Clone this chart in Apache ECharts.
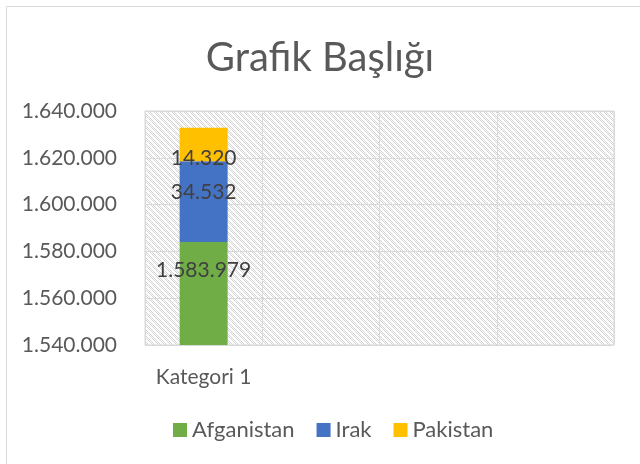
<!DOCTYPE html>
<html>
<head>
<meta charset="utf-8">
<script src="https://cdn.jsdelivr.net/npm/echarts@6/dist/echarts.min.js"></script>
<style>
  html, body { margin: 0; padding: 0; background: #fff; }
  #chart { width: 640px; height: 464px; }
</style>
</head>
<body>
<div id="chart"></div>
<script>
var categories = ['Kategori 1', '', '', ''];
var afganistan = [1583979, null, null, null];
var irak = [34532, null, null, null];
var pakistan = [14320, null, null, null];
var yTicks = [1540000, 1560000, 1580000, 1600000, 1620000, 1640000];

// dotted thousands, like the Turkish locale
function fmt(v) {
    return String(v).replace(/\B(?=(\d{3})+(?!\d))/g, '.');
}

// hatched plot background
var tile = document.createElement('canvas');
tile.width = 6;
tile.height = 6;
var ctx = tile.getContext('2d');
ctx.fillStyle = '#ffffff';
ctx.fillRect(0, 0, 6, 6);
ctx.fillStyle = '#d4d4d4';
for (var y = 0; y < 6; y++) {
    for (var x = 0; x < 6; x++) {
        var d = (x - y + 12) % 6;
        if (d < 3 && (x + y) % 2 === 0) {
            ctx.fillRect(x, y, 1, 1);
        }
    }
}

var labelStyle = {
    show: true,
    color: '#404040',
    fontSize: 21,
    fontFamily: 'Lato',
    formatter: function(p) { return fmt(p.value); }
};

var chart = echarts.init(document.getElementById('chart'));
chart.setOption({
    animation: false,
    textStyle: { fontFamily: 'Lato' },
    title: {
        text: 'Grafik Başlığı',
        left: 'center',
        top: 33,
        textStyle: { color: '#595959', fontSize: 40, fontWeight: 'normal', fontFamily: 'Lato' }
    },
    graphic: [{
        type: 'rect',
        shape: { x: 6.5, y: 6.5, width: 700, height: 500 },
        style: { fill: 'none', stroke: '#d9d9d9', lineWidth: 1 },
        silent: true
    }],
    legend: {
        bottom: 18,
        left: 168,
        itemWidth: 14,
        itemHeight: 14,
        itemGap: 22,
        icon: 'rect',
        textStyle: { color: '#595959', fontSize: 22, fontFamily: 'Lato' },
        data: ['Afganistan', 'Irak', 'Pakistan']
    },
    grid: {
        left: 145,
        right: 26,
        top: 111,
        bottom: 119,
        show: true,
        borderColor: '#d9d9d9',
        borderWidth: 1,
        backgroundColor: { image: tile, repeat: 'repeat' }
    },
    xAxis: {
        type: 'category',
        data: categories,
        axisLine: { show: false },
        axisTick: { show: false },
        axisLabel: { color: '#595959', fontSize: 21, margin: 22, fontFamily: 'Lato' },
        splitLine: { show: true, interval: 0, lineStyle: { color: '#d9d9d9', width: 1 } }
    },
    yAxis: {
        type: 'value',
        min: yTicks[0],
        max: yTicks[yTicks.length - 1],
        interval: 20000,
        axisLine: { show: false },
        axisTick: { show: false },
        axisLabel: { color: '#595959', fontSize: 21, margin: 28, fontFamily: 'Lato', formatter: fmt },
        splitLine: { lineStyle: { color: '#d9d9d9', width: 1 } }
    },
    series: [{
        name: 'Afganistan',
        type: 'bar',
        stack: 'all',
        barWidth: 48,
        data: afganistan,
        itemStyle: { color: '#70AD47' },
        label: Object.assign({}, labelStyle, { position: 'inside', offset: [0, -23] })
    }, {
        name: 'Irak',
        type: 'bar',
        stack: 'all',
        data: irak,
        itemStyle: { color: '#4472C4' },
        label: Object.assign({}, labelStyle, { position: 'inside', offset: [0, -9] })
    }, {
        name: 'Pakistan',
        type: 'bar',
        stack: 'all',
        data: pakistan,
        itemStyle: { color: '#FFC000' },
        label: Object.assign({}, labelStyle, { position: 'inside', offset: [0, 14] })
    }]
});
</script>
</body>
</html>
